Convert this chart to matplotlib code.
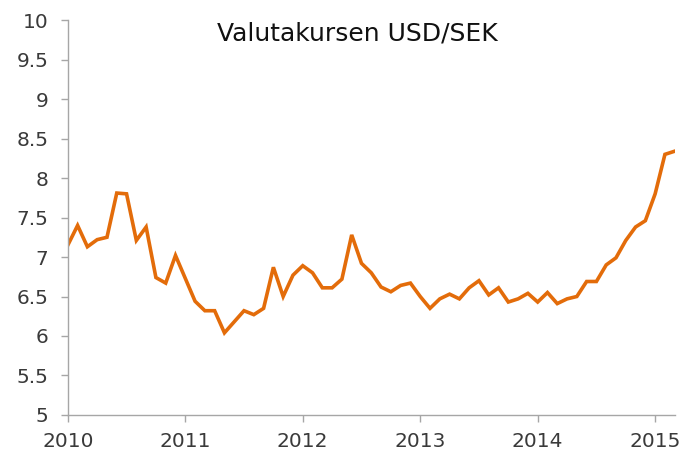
import matplotlib
matplotlib.use("Agg")
import matplotlib.pyplot as plt
import numpy as np

# Monthly USD/SEK, Jan 2010 - Mar 2015
years = [2010, 2011, 2012, 2013, 2014, 2015]
rate_2010 = [7.15, 7.40, 7.13, 7.22, 7.25, 7.81, 7.80, 7.21, 7.38, 6.74, 6.67, 7.02]
rate_2011 = [6.73, 6.44, 6.32, 6.32, 6.04, 6.18, 6.32, 6.27, 6.35, 6.87, 6.50, 6.77]
rate_2012 = [6.89, 6.80, 6.61, 6.61, 6.72, 7.28, 6.92, 6.80, 6.62, 6.56, 6.64, 6.67]
rate_2013 = [6.50, 6.35, 6.47, 6.53, 6.47, 6.61, 6.70, 6.52, 6.61, 6.43, 6.47, 6.54]
rate_2014 = [6.43, 6.55, 6.41, 6.47, 6.50, 6.69, 6.69, 6.90, 6.99, 7.21, 7.38, 7.46]
rate_2015 = [7.80, 8.30, 8.34]

rates = rate_2010 + rate_2011 + rate_2012 + rate_2013 + rate_2014 + rate_2015
months = np.arange(len(rates))

yticks = [5, 5.5, 6, 6.5, 7, 7.5, 8, 8.5, 9, 9.5, 10]
ytick_labels = ["5", "5.5", "6", "6.5", "7", "7.5", "8", "8.5", "9", "9.5", "10"]

plt.rcParams["font.family"] = ["DejaVu Sans"]
text_col = "#3a3a3a"
axis_col = "#a6a6a6"

fig = plt.figure(figsize=(6.85, 4.57), dpi=100)
ax = fig.add_axes([0.099, 0.092, 0.886, 0.864])

ax.plot(months, rates, color="#E36C0A", lw=2.6, solid_joinstyle="miter")

ax.set_xlim(0, len(rates) - 1)
ax.set_ylim(5, 10)
ax.set_yticks(yticks)
ax.set_yticklabels(ytick_labels)
ax.set_xticks([12 * i for i in range(len(years))])
ax.set_xticklabels([str(y) for y in years])

for side in ["top", "right"]:
    ax.spines[side].set_visible(False)
for side in ["left", "bottom"]:
    ax.spines[side].set_color(axis_col)
    ax.spines[side].set_linewidth(1.0)

ax.tick_params(axis="both", colors=axis_col, labelcolor=text_col,
               labelsize=14.5, length=5, width=1.0, direction="out")
ax.tick_params(axis="y", pad=9)
ax.tick_params(axis="x", pad=7)

fig.text(0.521, 0.952, "Valutakursen USD/SEK",
         ha="center", va="top", fontsize=18, color="#111111")

fig.savefig("out.png", dpi=100)
